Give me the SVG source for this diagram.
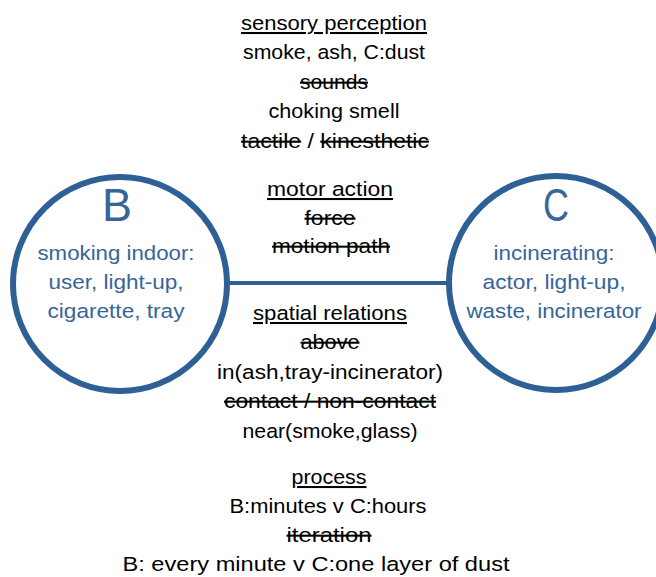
<svg xmlns="http://www.w3.org/2000/svg" width="656" height="577" viewBox="0 0 656 577">
  <style>
    .t { font-family: "Liberation Sans", Arial, sans-serif; font-size: 20.5px; fill: #000; text-anchor: middle; }
    .u { text-decoration: underline; }
    .s { text-decoration: line-through; }
    .node { fill: #fff; stroke: #2e6095; stroke-width: 6; }
    .nl { font-family: "Liberation Sans", Arial, sans-serif; font-size: 46px; fill: #36659a; text-anchor: middle; }
    .nt { font-family: "Liberation Sans", Arial, sans-serif; font-size: 20.5px; fill: #36659a; text-anchor: middle; }
    .edge { stroke: #2e6095; stroke-width: 4; fill: none; }
  </style>
  <rect width="656" height="577" fill="#fff"/>

  <!-- connector between the two situations -->
  <g id="connectors">
    <line class="edge" x1="228" y1="283" x2="450" y2="283"/>
  </g>

  <!-- situation B -->
  <g id="node-B">
    <circle class="node" cx="120" cy="284" r="107"/>
    <text class="nl" x="117" y="221" textLength="30" lengthAdjust="spacingAndGlyphs">B</text>
    <text class="nt" x="116" y="260" textLength="157" lengthAdjust="spacingAndGlyphs">smoking indoor:</text>
    <text class="nt" x="116" y="289" textLength="135" lengthAdjust="spacingAndGlyphs">user, light-up,</text>
    <text class="nt" x="116" y="318" textLength="137" lengthAdjust="spacingAndGlyphs">cigarette, tray</text>
  </g>

  <!-- situation C -->
  <g id="node-C">
    <circle class="node" cx="556" cy="283" r="107"/>
    <text class="nl" x="556" y="221" textLength="26" lengthAdjust="spacingAndGlyphs">C</text>
    <text class="nt" x="554" y="260" textLength="121" lengthAdjust="spacingAndGlyphs">incinerating:</text>
    <text class="nt" x="554" y="289" textLength="143" lengthAdjust="spacingAndGlyphs">actor, light-up,</text>
    <text class="nt" x="554" y="318" textLength="175" lengthAdjust="spacingAndGlyphs">waste, incinerator</text>
  </g>

  <!-- sensory perception -->
  <g id="sensory">
    <text class="t u" x="334" y="30" textLength="186" lengthAdjust="spacingAndGlyphs">sensory perception</text>
    <text class="t" x="334" y="59" textLength="182" lengthAdjust="spacingAndGlyphs">smoke, ash, C:dust</text>
    <text class="t s" x="334" y="89" textLength="68" lengthAdjust="spacingAndGlyphs">sounds</text>
    <text class="t" x="334" y="118" textLength="131" lengthAdjust="spacingAndGlyphs">choking smell</text>
    <text class="t" x="335" y="148" textLength="188" lengthAdjust="spacingAndGlyphs"><tspan class="s">tactile</tspan> / <tspan class="s">kinesthetic</tspan></text>
  </g>

  <!-- motor action -->
  <g id="motor">
    <text class="t u" x="330" y="196" textLength="126" lengthAdjust="spacingAndGlyphs">motor action</text>
    <text class="t s" x="330" y="225" textLength="51" lengthAdjust="spacingAndGlyphs">force</text>
    <text class="t s" x="331" y="253" textLength="118" lengthAdjust="spacingAndGlyphs">motion path</text>
  </g>

  <!-- spatial relations -->
  <g id="spatial">
    <text class="t u" x="330" y="320" textLength="154" lengthAdjust="spacingAndGlyphs">spatial relations</text>
    <text class="t s" x="330" y="349" textLength="59" lengthAdjust="spacingAndGlyphs">above</text>
    <text class="t" x="330" y="379" textLength="226" lengthAdjust="spacingAndGlyphs">in(ash,tray-incinerator)</text>
    <text class="t s" x="330" y="408" textLength="212" lengthAdjust="spacingAndGlyphs">contact / non-contact</text>
    <text class="t" x="330" y="438" textLength="175" lengthAdjust="spacingAndGlyphs">near(smoke,glass)</text>
  </g>

  <!-- process -->
  <g id="process">
    <text class="t u" x="329" y="484" textLength="75" lengthAdjust="spacingAndGlyphs">process</text>
    <text class="t" x="328" y="513" textLength="197" lengthAdjust="spacingAndGlyphs">B:minutes v C:hours</text>
    <text class="t s" x="329" y="542" textLength="85" lengthAdjust="spacingAndGlyphs">iteration</text>
    <text class="t" x="316" y="571" textLength="387" lengthAdjust="spacingAndGlyphs">B: every minute v C:one layer of dust</text>
  </g>
</svg>
